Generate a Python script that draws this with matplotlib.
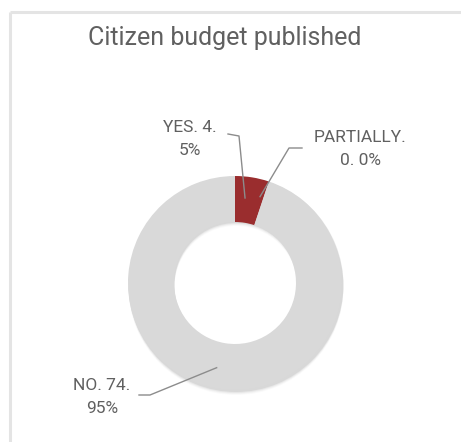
import numpy as np
import matplotlib
matplotlib.use("Agg")
import matplotlib.pyplot as plt

# Citizen budget published: count and share per answer
answers = ["YES", "PARTIALLY", "NO"]
counts = [4, 0, 74]
shares = ["5%", "0%", "95%"]
first_line_parts = [2, 1, 2]
colors = ["#9a2d2e", "#d9d9d9", "#d9d9d9"]

W, H = 461, 442
fig = plt.figure(figsize=(W / 100, H / 100), dpi=100)
ax = fig.add_axes([0, 0, 1, 1])

font = ["Roboto", "DejaVu Sans"]
text_color = "#606060"

cx, cy, r = 235, H - 283, 107
hole = 0.43

# soft shadow under the ring
for i, a in enumerate([0.06, 0.045, 0.03, 0.02]):
    ax.pie([1], colors=["#000000"], radius=r + 0.5, center=(cx + 1, cy - 1.5 - i),
           wedgeprops=dict(width=r * hole, alpha=a, linewidth=0), frame=True)

wedges, _ = ax.pie(counts, colors=colors, radius=r, center=(cx, cy),
                   startangle=90, counterclock=False,
                   wedgeprops=dict(width=r * hole, linewidth=0), frame=True)
ax.set_xlim(0, W)
ax.set_ylim(0, H)
ax.set_aspect("equal")
ax.axis("off")

# panel frame (top and left edges only)
ax.plot([10, W], [H - 12, H - 12], color="#e4e4e4", lw=2.2, solid_capstyle="butt")
ax.plot([10, 10], [H - 12, 0], color="#e4e4e4", lw=2.2, solid_capstyle="butt")

ax.text(225, H - 38, "Citizen budget published", ha="center", va="center",
        fontsize=18, color=text_color, family=font)


def ring_point(frac_r, ang):
    rad = np.deg2rad(ang)
    rr = r * frac_r
    return cx + rr * np.cos(rad), cy + rr * np.sin(rad)


# label text position, elbow points, leader end (radius fraction, angle offset)
label_pos = [(190, H - 139), (360, H - 149), (102, H - 397)]
elbows = [[(228, H - 134), (239, H - 136)],
          [(302, H - 148), (289, H - 148)],
          [(139, H - 395), (150, H - 395)]]
ends = [0.80, 0.84, 0.81]
angle_shift = [2.5, 2.3, -3]

for i, w in enumerate(wedges):
    ang = 0.5 * (w.theta1 + w.theta2) + angle_shift[i]
    px, py = ring_point(ends[i], ang)
    xs = [p[0] for p in elbows[i]] + [px]
    ys = [p[1] for p in elbows[i]] + [py]
    ax.plot(xs, ys, color="#8c8c8c", lw=1.0)
    parts = [f"{answers[i]}.", f"{counts[i]}.", shares[i]]
    k = first_line_parts[i]
    label = " ".join(parts[:k]) + "\n" + " ".join(parts[k:])
    tx, ty = label_pos[i]
    ax.text(tx, ty, label, ha="center", va="center", fontsize=12.5,
            color=text_color, family=font, linespacing=1.7)

fig.savefig("out.png", dpi=100)
